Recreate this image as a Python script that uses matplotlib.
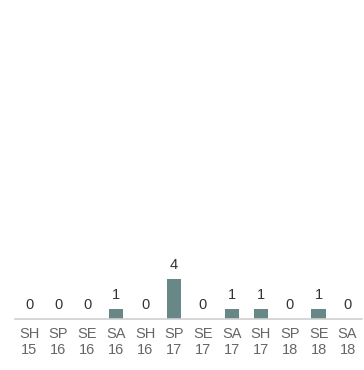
import matplotlib.pyplot as plt

plt.rcParams['font.family'] = ['Liberation Sans', 'DejaVu Sans']

seasons = ["SH", "SP", "SE", "SA", "SH", "SP", "SE", "SA", "SH", "SP", "SE", "SA"]
years = ["15", "16", "16", "16", "16", "17", "17", "17", "17", "18", "18", "18"]
counts = [0, 0, 0, 1, 0, 4, 0, 1, 1, 0, 1, 0]

labels = [f"{s}\n{y}" for s, y in zip(seasons, years)]
x = list(range(len(counts)))

fig = plt.figure(figsize=(3.64, 3.70), dpi=100)
ax = fig.add_axes([15 / 364, 51 / 370, 347 / 364, 319 / 370])

ax.bar(x, counts, width=0.5, color="#688787")

# value labels above bars
for xi, v in zip(x, counts):
    ax.annotate(str(v), (xi, v), xytext=(0, 5), textcoords="offset points",
                ha="center", va="bottom", fontsize=10.5, color="#333333")

ax.set_xlim(-0.5, len(counts) - 0.5)
ax.set_ylim(0, 31.9)
ax.set_xticks(x)
ax.set_xticklabels(labels, fontsize=10.5, color="#666666", linespacing=1.15)
ax.tick_params(axis="x", length=0, pad=6)
ax.set_yticks([])

for side in ["top", "right", "left"]:
    ax.spines[side].set_visible(False)
ax.spines["bottom"].set_color("#d0d0d0")
ax.spines["bottom"].set_linewidth(1.2)

fig.savefig("out.png", dpi=100)
